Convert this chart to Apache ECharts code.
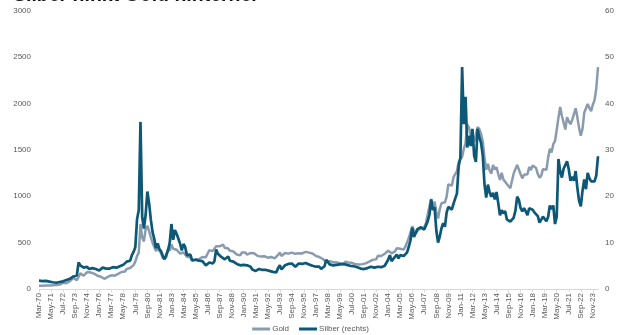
<!DOCTYPE html>
<html>
<head>
<meta charset="utf-8">
<script src="https://cdn.jsdelivr.net/npm/echarts@6/dist/echarts.min.js"></script>
<style>
  html, body { margin: 0; padding: 0; background: #fff; }
  #chart { width: 621px; height: 335px; }
</style>
</head>
<body>
<div id="chart"></div>
<script>
// Bimonthly samples, Mar 1970 .. May 2024 (Jan, Mar, May, Jul, Sep, Nov per year)
const monthNames = ['Jan', 'Mar', 'May', 'Jul', 'Sep', 'Nov'];
const firstYear = 1970, firstSlot = 1;   // starts in March 1970
const lastYear = 2024, lastSlot = 2;     // ends in May 2024

// Gold, USD per ounce (left axis)
const gold = [
  35, 36, 35, 36, 37,                       // 1970 (Mar..Nov)
  38, 39, 40, 41, 42, 43,                   // 1971
  46, 48, 55, 66, 65, 63,                   // 1972
  65, 84, 102, 120, 103, 95,                // 1973
  129, 168, 163, 143, 151, 182,             // 1974
  176, 178, 167, 165, 144, 143,             // 1975
  131, 132, 128, 110, 114, 130,             // 1976
  133, 148, 147, 143, 150, 162,             // 1977
  173, 183, 176, 188, 217, 207,             // 1978
  227, 242, 257, 296, 355, 392,             // 1979
  700, 554, 513, 644, 680, 623,             // 1980
  558, 499, 480, 409, 443, 413,             // 1981
  384, 330, 334, 342, 438, 414,             // 1982
  481, 434, 438, 423, 414, 382,             // 1983
  370, 394, 377, 348, 341, 341,             // 1984
  303, 304, 317, 317, 323, 325,             // 1985
  345, 345, 342, 348, 418, 399,             // 1986
  408, 409, 460, 450, 460, 468,             // 1987
  477, 444, 451, 437, 413, 421,             // 1988
  404, 390, 371, 374, 362, 394,             // 1989
  410, 393, 369, 362, 388, 381,             // 1990
  384, 363, 357, 368, 349, 360,             // 1991
  354, 344, 337, 353, 345, 335,             // 1992
  329, 330, 367, 392, 356, 374,             // 1993
  387, 384, 381, 385, 392, 384,             // 1994
  379, 382, 385, 386, 383, 386,             // 1995
  400, 396, 392, 383, 383, 378,             // 1996
  355, 352, 344, 324, 323, 306,             // 1997
  289, 296, 300, 293, 289, 294,             // 1998
  287, 286, 277, 256, 264, 293,             // 1999
  284, 286, 275, 282, 273, 266,             // 2000
  265, 263, 272, 268, 283, 276,             // 2001
  282, 294, 314, 314, 319, 319,             // 2002
  357, 336, 355, 351, 379, 389,             // 2003
  413, 407, 384, 398, 405, 439,             // 2004
  424, 434, 422, 424, 456, 476,             // 2005
  549, 557, 675, 633, 598, 629,             // 2006
  631, 655, 667, 666, 712, 806,             // 2007
  889, 968, 889, 940, 829, 760,             // 2008
  858, 924, 928, 934, 996, 1128,            // 2009
  1118, 1113, 1205, 1193, 1271, 1370,       // 2010
  1356, 1424, 1512, 1572, 1772, 1739,       // 2011
  1654, 1675, 1586, 1594, 1744, 1722,       // 2012
  1670, 1592, 1415, 1285, 1349, 1275,       // 2013
  1244, 1336, 1288, 1311, 1239, 1176,       // 2014
  1251, 1179, 1199, 1131, 1125, 1086,       // 2015
  1097, 1246, 1260, 1337, 1326, 1236,       // 2016
  1192, 1231, 1246, 1236, 1315, 1280,       // 2017
  1331, 1325, 1303, 1238, 1198, 1221,       // 2018
  1291, 1300, 1284, 1414, 1510, 1470,       // 2019
  1560, 1592, 1715, 1846, 1960, 1866,       // 2020
  1867, 1718, 1850, 1807, 1775, 1822,       // 2021
  1817, 1947, 1849, 1733, 1650, 1726,       // 2022
  1898, 1913, 1992, 1951, 1916, 1985,       // 2023
  2034, 2160, 2390                          // 2024 (Jan..May)
];

// Silver, USD per ounce (right axis)
const silver = [
  1.80, 1.75, 1.70, 1.80, 1.75,             // 1970
  1.65, 1.60, 1.55, 1.45, 1.35, 1.35,       // 1971
  1.40, 1.50, 1.55, 1.65, 1.75, 1.95,       // 1972
  2.0, 2.2, 2.5, 2.7, 2.7, 2.9,             // 1973
  5.7, 5.1, 5.2, 4.6, 4.3, 4.8,             // 1974
  4.3, 4.2, 4.5, 4.8, 4.3, 4.2,             // 1975
  4.0, 4.0, 4.6, 4.7, 4.4, 4.3,             // 1976
  4.4, 4.8, 4.7, 4.4, 4.6, 4.7,             // 1977
  4.9, 5.1, 5.2, 5.4, 5.9, 5.9,             // 1978
  6.1, 7.3, 8.0, 9.0, 15.0, 17.0,           // 1979
  36.0, 15.5, 13.0, 16.0, 21.0, 18.5,       // 1980
  15.0, 12.3, 10.8, 8.8, 9.8, 8.6,          // 1981
  8.1, 7.1, 6.4, 6.2, 8.3, 10.0,            // 1982
  14.0, 10.6, 12.7, 11.9, 12.2, 9.8,        // 1983
  8.3, 9.7, 9.0, 7.3, 7.4, 7.4,             // 1984
  6.2, 6.4, 6.3, 6.2, 6.1, 6.1,             // 1985
  6.0, 5.6, 5.1, 5.0, 5.7, 5.6,             // 1986
  5.5, 6.0, 8.5, 7.6, 7.6, 6.9,             // 1987
  6.6, 6.4, 6.6, 7.0, 6.1, 6.2,             // 1988
  5.9, 5.8, 5.4, 5.3, 5.1, 5.5,             // 1989
  5.2, 5.0, 5.1, 4.8, 4.8, 4.2,             // 1990
  4.1, 3.9, 4.0, 4.3, 4.0, 4.1,             // 1991
  4.1, 4.1, 4.0, 3.9, 3.8, 3.7,             // 1992
  3.7, 3.6, 4.5, 5.1, 4.2, 4.6,             // 1993
  5.1, 5.4, 5.4, 5.3, 5.5, 5.2,             // 1994
  4.8, 4.5, 5.5, 5.1, 5.4, 5.3,             // 1995
  5.6, 5.5, 5.3, 5.0, 5.0, 4.8,             // 1996
  4.8, 5.1, 4.8, 4.3, 4.7, 4.9,             // 1997
  6.3, 6.1, 5.3, 5.4, 5.1, 5.0,             // 1998
  5.2, 5.1, 5.3, 5.3, 5.4, 5.2,             // 1999
  5.2, 5.0, 5.0, 5.0, 4.9, 4.7,             // 2000
  4.7, 4.4, 4.4, 4.3, 4.3, 4.2,             // 2001
  4.5, 4.6, 4.8, 4.9, 4.6, 4.5,             // 2002
  4.8, 4.5, 4.7, 4.9, 5.0, 5.2,             // 2003
  6.3, 7.3, 6.0, 6.5, 6.4, 7.4,             // 2004
  6.6, 7.3, 7.1, 7.1, 7.0, 7.9,             // 2005
  9.1, 10.5, 13.2, 11.2, 11.6, 12.9,        // 2006
  12.9, 13.3, 13.3, 12.8, 12.9, 14.6,       // 2007
  16.0, 19.3, 17.0, 17.6, 12.6, 10.0,       // 2008
  11.3, 13.1, 14.2, 13.4, 16.5, 17.7,       // 2009
  17.8, 17.1, 18.4, 18.0, 20.6, 26.5,       // 2010
  28.3, 47.8, 35.5, 41.4, 30.5, 33.0,       // 2011
  30.8, 34.5, 28.7, 27.4, 34.5, 32.7,       // 2012
  31.5, 28.8, 22.6, 19.7, 22.5, 20.8,       // 2013
  19.9, 20.7, 19.3, 20.9, 18.5, 15.9,       // 2014
  17.0, 16.3, 16.8, 15.0, 14.7, 14.5,       // 2015
  14.1, 15.4, 16.9, 19.9, 19.2, 17.4,       // 2016
  16.7, 17.4, 16.7, 15.9, 17.4, 17.0,       // 2017
  17.1, 16.5, 16.5, 15.7, 14.3, 14.4,       // 2018
  15.6, 15.3, 14.6, 15.5, 18.0, 17.2,       // 2019
  18.0, 14.0, 15.6, 28.0, 25.4, 24.0,       // 2020
  25.9, 25.6, 27.5, 25.8, 23.3, 24.2,       // 2021
  23.3, 25.4, 21.8, 19.0, 17.8, 21.2,       // 2022
  23.6, 21.5, 25.0, 23.9, 23.2, 23.4,       // 2023
  23.2, 24.5, 28.6                          // 2024
];

const titleText = 'Silber hinkt Gold hinterher';
const seriesNames = ['Gold', 'Silber (rechts)'];

// Category labels such as "Mar-70"
const categories = [];
for (let y = firstYear; y <= lastYear; y++) {
  for (let s = 0; s < 6; s++) {
    if (y === firstYear && s < firstSlot) continue;
    if (y === lastYear && s > lastSlot) continue;
    categories.push(monthNames[s] + '-' + String(y % 100).padStart(2, '0'));
  }
}

const labelColor = '#595959';
const goldColor = '#8A9BAE';
const silverColor = '#0D5877';
const plainNumber = v => String(v);

const chart = echarts.init(document.getElementById('chart'), null, { renderer: 'canvas' });
chart.setOption({
  animation: false,
  backgroundColor: '#ffffff',
  textStyle: { fontFamily: 'Liberation Sans, Arial, sans-serif' },
  graphic: [{
    type: 'text',
    left: 13,
    top: -14,
    style: {
      text: titleText,
      font: 'bold 19.5px "Liberation Sans", Arial, sans-serif',
      fill: '#111111'
    }
  }],
  grid: {
    left: 39, right: 23, top: 10.5, bottom: 46,
    containLabel: false, outerBoundsMode: 'none'
  },
  legend: {
    data: seriesNames,
    bottom: -3,
    left: 'center',
    icon: 'rect',
    itemWidth: 18,
    itemHeight: 3,
    itemGap: 10,
    textStyle: { color: labelColor, fontSize: 8, padding: [0, 0, 0, -3] }
  },
  xAxis: {
    type: 'category',
    data: categories,
    boundaryGap: false,
    axisLine: { lineStyle: { color: '#D9D9D9', width: 1 } },
    axisTick: { show: true, interval: 6, length: 3, lineStyle: { color: '#D9D9D9' } },
    axisLabel: {
      interval: 6, rotate: 90, fontSize: 8, color: labelColor, margin: 4
    },
    splitLine: { show: false }
  },
  yAxis: [{
    type: 'value', min: 0, max: 3000, interval: 500,
    axisLine: { show: false }, axisTick: { show: false }, splitLine: { show: false },
    axisLabel: { fontSize: 8, color: labelColor, margin: 8, formatter: plainNumber }
  }, {
    type: 'value', min: 0, max: 60, interval: 10, position: 'right',
    axisLine: { show: false }, axisTick: { show: false }, splitLine: { show: false },
    axisLabel: { fontSize: 8, color: labelColor, margin: 7, formatter: plainNumber }
  }],
  series: [{
    name: seriesNames[0],
    type: 'line',
    data: gold,
    yAxisIndex: 0,
    symbol: 'none',
    lineStyle: { color: goldColor, width: 2.5 },
    itemStyle: { color: goldColor }
  }, {
    name: seriesNames[1],
    type: 'line',
    data: silver,
    yAxisIndex: 1,
    symbol: 'none',
    lineStyle: { color: silverColor, width: 2.7 },
    itemStyle: { color: silverColor }
  }]
});
</script>
</body>
</html>
